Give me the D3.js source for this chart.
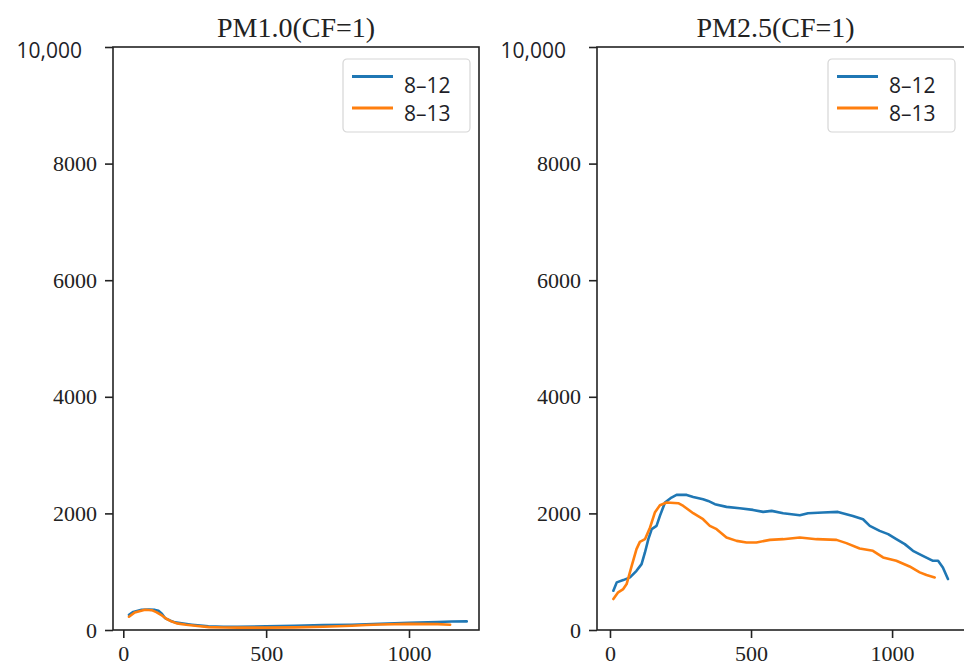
<!DOCTYPE html>
<html>
<head>
<meta charset="utf-8">
<script src="https://cdn.jsdelivr.net/npm/d3@7"></script>
<style>
  body { margin: 0; background: #fff; }
  svg { display: block; }
</style>
</head>
<body>
<div id="main"></div>
<script>
// series labels and colours
const seriesNames = ['8\u201312', '8\u201313'];
const seriesColors = ['#1f77b4', '#ff7f0e'];

const yTicks = [0, 2000, 4000, 6000, 8000, 10000];
const xTicks = [0, 500, 1000];

// PM1.0(CF=1) -- [x, value]
const pm10_0812 = [[20,262],[35,310],[64,348],[90,350],[111,345],[123,330],[135,280],[146,205],[165,160],[181,131],[210,110],[240,91],[270,75],[298,63],[350,55],[400,55],[500,62],[600,72],[700,85],[800,90],[900,105],[1000,122],[1100,138],[1150,146],[1202,148]];
const pm10_0813 = [[20,228],[40,300],[76,348],[100,340],[117,303],[135,250],[152,188],[170,145],[187,114],[220,90],[260,70],[300,50],[350,42],[400,40],[500,40],[600,45],[700,55],[800,72],[850,85],[900,95],[1000,105],[1100,100],[1144,91]];

// PM2.5(CF=1) -- [x, value]
const pm25_0812 = [[12,673],[24,817],[47,856],[71,902],[94,1015],[112,1130],[124,1330],[136,1558],[148,1730],[165,1786],[177,1957],[195,2187],[218,2272],[236,2317],[272,2317],[295,2283],[330,2243],[348,2214],[372,2158],[413,2112],[460,2089],[507,2060],[543,2026],[573,2043],[614,2003],[673,1969],[702,2003],[755,2015],[808,2026],[861,1957],[897,1900],[921,1786],[956,1700],[986,1644],[1015,1558],[1045,1473],[1074,1358],[1109,1272],[1145,1187],[1163,1187],[1180,1073],[1198,873]];
const pm25_0813 = [[12,531],[29,646],[47,702],[59,788],[77,1101],[94,1387],[106,1512],[124,1558],[142,1758],[159,2015],[177,2140],[201,2187],[242,2175],[260,2128],[295,2003],[330,1900],[354,1786],[378,1730],[413,1587],[449,1529],[484,1501],[519,1501],[567,1546],[614,1558],[673,1587],[732,1558],[803,1546],[838,1490],[885,1398],[932,1358],[968,1245],[1015,1187],[1062,1090],[1098,988],[1122,942],[1151,902]];

const W = 964, H = 664;
const svg = d3.select('#main').append('svg').attr('width', W).attr('height', H);

const panels = [
  { title: 'PM1.0(CF=1)', series: [pm10_0812, pm10_0813], left: 113, right: 479, xDomain: [-36, 1245], legendX: 343 },
  { title: 'PM2.5(CF=1)', series: [pm25_0812, pm25_0813], left: 597, right: 966, xDomain: [-46, 1262], legendX: 828 }
];
const plotTop = 47, plotBottom = 630;

panels.forEach(p => {
  let x = d3.scaleLinear().domain(p.xDomain).range([p.left, p.right]);
  let y = d3.scaleLinear().domain([0, 10000]).range([plotBottom, plotTop]);

  let g = svg.append('g').classed('panel', true);

  // lines
  let line = d3.line().x(d => x(d[0])).y(d => y(d[1])).curve(d3.curveLinear);
  g.selectAll('path.series').data(p.series).join('path').classed('series', true)
    .attr('d', line)
    .style('fill', 'none')
    .style('stroke', (d, i) => seriesColors[i])
    .style('stroke-width', '2.6px')
    .style('stroke-linejoin', 'round')
    .style('stroke-linecap', 'round');

  // frame
  g.append('rect')
    .attr('x', p.left).attr('y', plotTop)
    .attr('width', p.right - p.left).attr('height', plotBottom - plotTop)
    .style('fill', 'none').style('stroke', '#222').style('stroke-width', '1.6px');

  // axes
  let yAxis = g.append('g').attr('transform', `translate(${p.left},0)`)
    .call(d3.axisLeft(y).tickValues(yTicks).tickSize(8).tickPadding(8).tickFormat(d => d === 10000 ? '' : d));
  let xAxis = g.append('g').attr('transform', `translate(0,${plotBottom})`)
    .call(d3.axisBottom(x).tickValues(xTicks).tickSize(8).tickPadding(7).tickFormat(d => d));
  [yAxis, xAxis].forEach(a => {
    a.select('.domain').remove();
    a.selectAll('line').style('stroke', '#222').style('stroke-width', '1.6px');
    a.selectAll('text')
      .style('font-family', '"Liberation Serif", "Times New Roman", serif')
      .style('font-size', '22px')
      .style('fill', '#222');
  });

  // top label drawn in a sans face, as in the figure
  g.append('text')
    .attr('x', p.left - 31)
    .attr('y', y(10000) + 4)
    .attr('dy', '0.35em')
    .style('text-anchor', 'end')
    .style('font-family', '"Open Sans", sans-serif')
    .style('font-size', '21px')
    .style('fill', '#1e1e28')
    .text('10,000');

  // title
  g.append('text')
    .attr('x', (p.left + Math.min(p.right, 960)) / 2 - (p.right > 960 ? 3 : 0))
    .attr('y', 37)
    .style('text-anchor', 'middle')
    .style('font-family', '"Liberation Serif", "Times New Roman", serif')
    .style('font-size', '28px')
    .style('fill', '#222')
    .text(p.title);

  // legend
  let lg = g.append('g').attr('transform', `translate(${p.legendX},59)`);
  lg.append('rect').attr('width', 127).attr('height', 73).attr('rx', 4)
    .style('fill', '#fff').style('stroke', '#d6d6d6').style('stroke-width', '1.2px');
  let items = lg.selectAll('g.item').data(seriesNames).join('g').classed('item', true)
    .attr('transform', (d, i) => `translate(0,${i * 31.5})`);
  items.append('line')
    .attr('x1', 9).attr('x2', 50).attr('y1', 17.5).attr('y2', 17.5)
    .style('stroke', (d, i) => seriesColors[i]).style('stroke-width', '3px');
  items.append('text')
    .attr('x', 61).attr('y', (d, i) => i === 0 ? 34 : 30)
    .style('font-family', '"Open Sans", sans-serif')
    .style('font-size', '21px')
    .style('fill', '#1e1e28')
    .text(d => d);
});
</script>
</body>
</html>
